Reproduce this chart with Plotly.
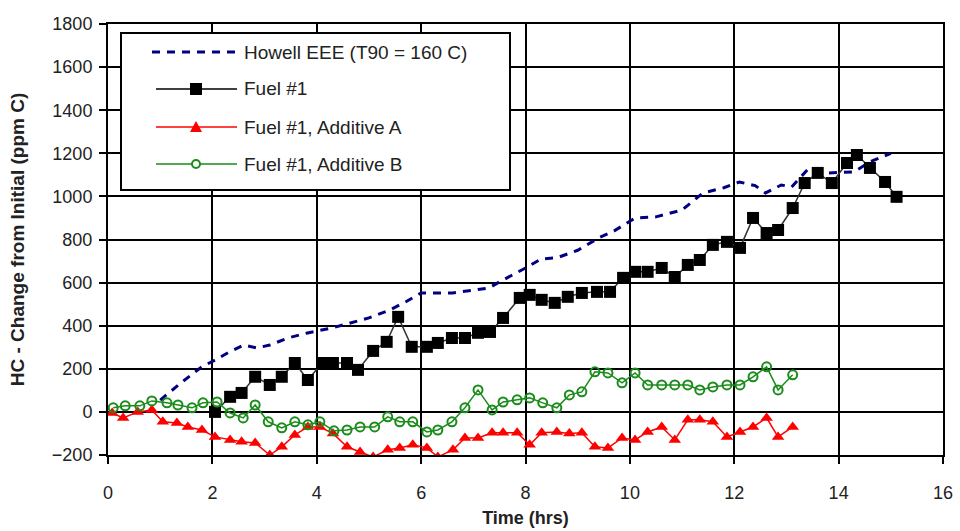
import plotly.graph_objects as go

# Howell EEE reference fuel (T90 = 160 C)
howell_t = [1.0, 1.4, 1.8, 2.05, 2.3, 2.6, 2.85, 3.1, 3.45, 3.8, 4.3, 4.6, 5.0, 5.4,
            5.7, 6.0, 6.3, 6.6, 7.0, 7.3, 7.5, 7.8, 8.0, 8.3, 8.6, 9.0, 9.4, 9.7,
            10.1, 10.5, 11.0, 11.4, 11.8, 12.1, 12.4, 12.6, 12.9, 13.1, 13.4, 13.8,
            14.3, 14.6, 15.0]
howell_hc = [55, 135, 210, 240, 275, 310, 297, 310, 343, 365, 390, 410, 436, 473,
             510, 552, 552, 552, 565, 575, 603, 640, 668, 710, 715, 750, 807, 840,
             900, 905, 937, 1016, 1040, 1067, 1050, 1016, 1053, 1044, 1123, 1109,
             1114, 1160, 1200]

# Fuel #1
fuel1_t = [2.05, 2.34, 2.56, 2.82, 3.1, 3.33, 3.58, 3.83, 4.1, 4.31, 4.58, 4.79,
           5.08, 5.34, 5.56, 5.82, 6.11, 6.32, 6.59, 6.84, 7.09, 7.32, 7.57, 7.89,
           8.08, 8.31, 8.56, 8.81, 9.08, 9.37, 9.62, 9.87, 10.1, 10.34, 10.61,
           10.86, 11.11, 11.34, 11.59, 11.86, 12.11, 12.36, 12.62, 12.84, 13.12,
           13.35, 13.6, 13.87, 14.16, 14.35, 14.6, 14.89, 15.11]
fuel1_hc = [0, 70, 88, 163, 125, 163, 227, 148, 227, 227, 227, 195,
            283, 325, 441, 302, 302, 320, 343, 343, 367, 371, 436, 529,
            543, 520, 506, 534, 552, 557, 557, 622, 650, 650, 668,
            626, 682, 705, 775, 789, 761, 900, 830, 844, 946,
            1062, 1109, 1062, 1155, 1192, 1132, 1067, 998]

# Fuel #1 with Additive A
addA_t = [0.08, 0.29, 0.57, 0.84, 1.05, 1.32, 1.53, 1.8, 2.05, 2.34, 2.56, 2.82,
          3.1, 3.33, 3.58, 3.83, 4.06, 4.31, 4.58, 4.83, 5.08, 5.36, 5.59, 5.84,
          6.11, 6.32, 6.61, 6.84, 7.09, 7.36, 7.57, 7.84, 8.08, 8.31, 8.6, 8.84,
          9.08, 9.33, 9.58, 9.85, 10.1, 10.34, 10.61, 10.86, 11.11, 11.34, 11.59,
          11.86, 12.11, 12.36, 12.62, 12.84, 13.12]
addA_hc = [-5, -28, 0, 9, -46, -51, -70, -84, -116, -130, -139, -144,
           -200, -162, -107, -70, -70, -100, -162, -186, -209, -176, -167, -153,
           -167, -209, -176, -121, -121, -97, -97, -97, -153, -97, -93, -100,
           -97, -162, -167, -121, -130, -93, -70, -130, -37, -37, -46,
           -116, -93, -70, -28, -116, -70]

# Fuel #1 with Additive B
addB_t = [0.1, 0.33, 0.61, 0.84, 1.13, 1.34, 1.61, 1.82, 2.09, 2.34, 2.59, 2.82,
          3.07, 3.33, 3.58, 3.83, 4.06, 4.33, 4.58, 4.83, 5.11, 5.36, 5.59, 5.84,
          6.11, 6.32, 6.59, 6.84, 7.09, 7.36, 7.57, 7.84, 8.08, 8.33, 8.6, 8.84,
          9.08, 9.33, 9.58, 9.85, 10.1, 10.34, 10.61, 10.86, 11.11, 11.34, 11.59,
          11.86, 12.11, 12.36, 12.62, 12.84, 13.12]
addB_hc = [19, 28, 28, 51, 42, 32, 19, 42, 46, -5, -28, 32,
           -46, -74, -46, -60, -46, -88, -84, -70, -70, -23, -46, -46,
           -93, -84, -46, 19, 102, 9, 46, 56, 65, 42, 19, 79,
           93, 186, 181, 135, 181, 125, 125, 125, 125, 102, 116,
           125, 125, 163, 209, 102, 172]

x_ticks = [0, 2, 4, 6, 8, 10, 12, 14, 16]
y_ticks = [-200, 0, 200, 400, 600, 800, 1000, 1200, 1400, 1600, 1800]

legend_labels = ["Howell EEE (T90 = 160 C)", "Fuel #1",
                 "Fuel #1, Additive A", "Fuel #1, Additive B"]

NAVY = "#000080"
RED = "#ff0000"
GREEN = "#1a8c1a"
FONT = "Liberation Sans, Arial, sans-serif"

W, H = 960, 531
ML, MR, MT, MB = 108, 17, 24, 76
PW, PH = W - ML - MR, H - MT - MB

fig = go.Figure()

fig.add_trace(go.Scatter(x=howell_t, y=howell_hc, mode="lines",
                         line=dict(color=NAVY, width=3, dash="8px,7px"),
                         name=legend_labels[0], showlegend=False))
fig.add_trace(go.Scatter(x=fuel1_t, y=fuel1_hc, mode="lines+markers",
                         line=dict(color="#333333", width=1.5),
                         marker=dict(symbol="square", size=12, color="black"),
                         name=legend_labels[1], showlegend=False))
fig.add_trace(go.Scatter(x=addA_t, y=addA_hc, mode="lines+markers",
                         line=dict(color=RED, width=1.5),
                         marker=dict(symbol="triangle-up", size=11, color=RED),
                         name=legend_labels[2], showlegend=False))
fig.add_trace(go.Scatter(x=addB_t, y=addB_hc, mode="lines+markers",
                         line=dict(color=GREEN, width=1.5),
                         marker=dict(symbol="circle-open", size=9,
                                     line=dict(color=GREEN, width=2)),
                         name=legend_labels[3], showlegend=False))


def px_x(p):
    return (p - ML) / PW


def px_y(p):
    return (H - MB - p) / PH


# Legend box drawn in paper coordinates
shapes = [dict(type="rect", xref="paper", yref="paper",
               x0=px_x(121), x1=px_x(510), y0=px_y(190), y1=px_y(33),
               line=dict(color="black", width=2), fillcolor="white", layer="above")]
annotations = []
rows = [52, 89, 127, 164]
x_line0, x_line1, x_mark, x_text = 156, 237, 196, 242
for i, yc in enumerate(rows):
    if i == 0:
        shapes.append(dict(type="line", xref="paper", yref="paper",
                           x0=px_x(152), x1=px_x(x_line1), y0=px_y(yc), y1=px_y(yc),
                           line=dict(color=NAVY, width=3, dash="8px,7px"), layer="above"))
    else:
        col = ["black", RED, GREEN][i - 1]
        shapes.append(dict(type="line", xref="paper", yref="paper",
                           x0=px_x(x_line0), x1=px_x(x_line1), y0=px_y(yc), y1=px_y(yc),
                           line=dict(color=col, width=1.5), layer="above"))
        if i == 1:
            shapes.append(dict(type="rect", xref="paper", yref="paper",
                               x0=px_x(x_mark - 6), x1=px_x(x_mark + 6),
                               y0=px_y(yc + 6), y1=px_y(yc - 6),
                               line=dict(width=0), fillcolor="black", layer="above"))
        elif i == 2:
            path = "M {},{} L {},{} L {},{} Z".format(
                px_x(x_mark - 6), px_y(yc + 5), px_x(x_mark + 6), px_y(yc + 5),
                px_x(x_mark), px_y(yc - 6))
            shapes.append(dict(type="path", xref="paper", yref="paper", path=path,
                               line=dict(width=0), fillcolor=RED, layer="above"))
        else:
            shapes.append(dict(type="circle", xref="paper", yref="paper",
                               x0=px_x(x_mark - 4), x1=px_x(x_mark + 4),
                               y0=px_y(yc + 4), y1=px_y(yc - 4),
                               line=dict(color=GREEN, width=2), fillcolor="white",
                               layer="above"))
    annotations.append(dict(xref="paper", yref="paper", x=px_x(x_text), y=px_y(yc),
                            text=legend_labels[i], showarrow=False, xanchor="left",
                            yanchor="middle",
                            font=dict(family=FONT, size=19, color="#222")))

axis_common = dict(showgrid=True, gridcolor="black", gridwidth=2, zeroline=False,
                   showline=True, linecolor="black", linewidth=2, mirror=True,
                   ticks="outside", ticklen=7, tickwidth=2, tickcolor="black",
                   automargin=False,
                   tickfont=dict(family=FONT, size=18, color="#222"))

fig.update_layout(
    width=W, height=H,
    margin=dict(l=ML, r=MR, t=MT, b=MB),
    paper_bgcolor="white", plot_bgcolor="white",
    showlegend=False,
    shapes=shapes, annotations=annotations,
    xaxis=dict(range=[0, 16], tickvals=x_ticks, ticklabelstandoff=13, **axis_common,
               title=dict(text="<b>Time (hrs)</b>", standoff=10,
                          font=dict(family=FONT, size=18, color="#222"))),
    yaxis=dict(range=[-200, 1800], tickvals=y_ticks, ticklabelstandoff=3, **axis_common,
               title=dict(text="<b>HC - Change from Initial (ppm C)</b>", standoff=22,
                          font=dict(family=FONT, size=19, color="#222"))),
)

fig.write_html("out.html")
